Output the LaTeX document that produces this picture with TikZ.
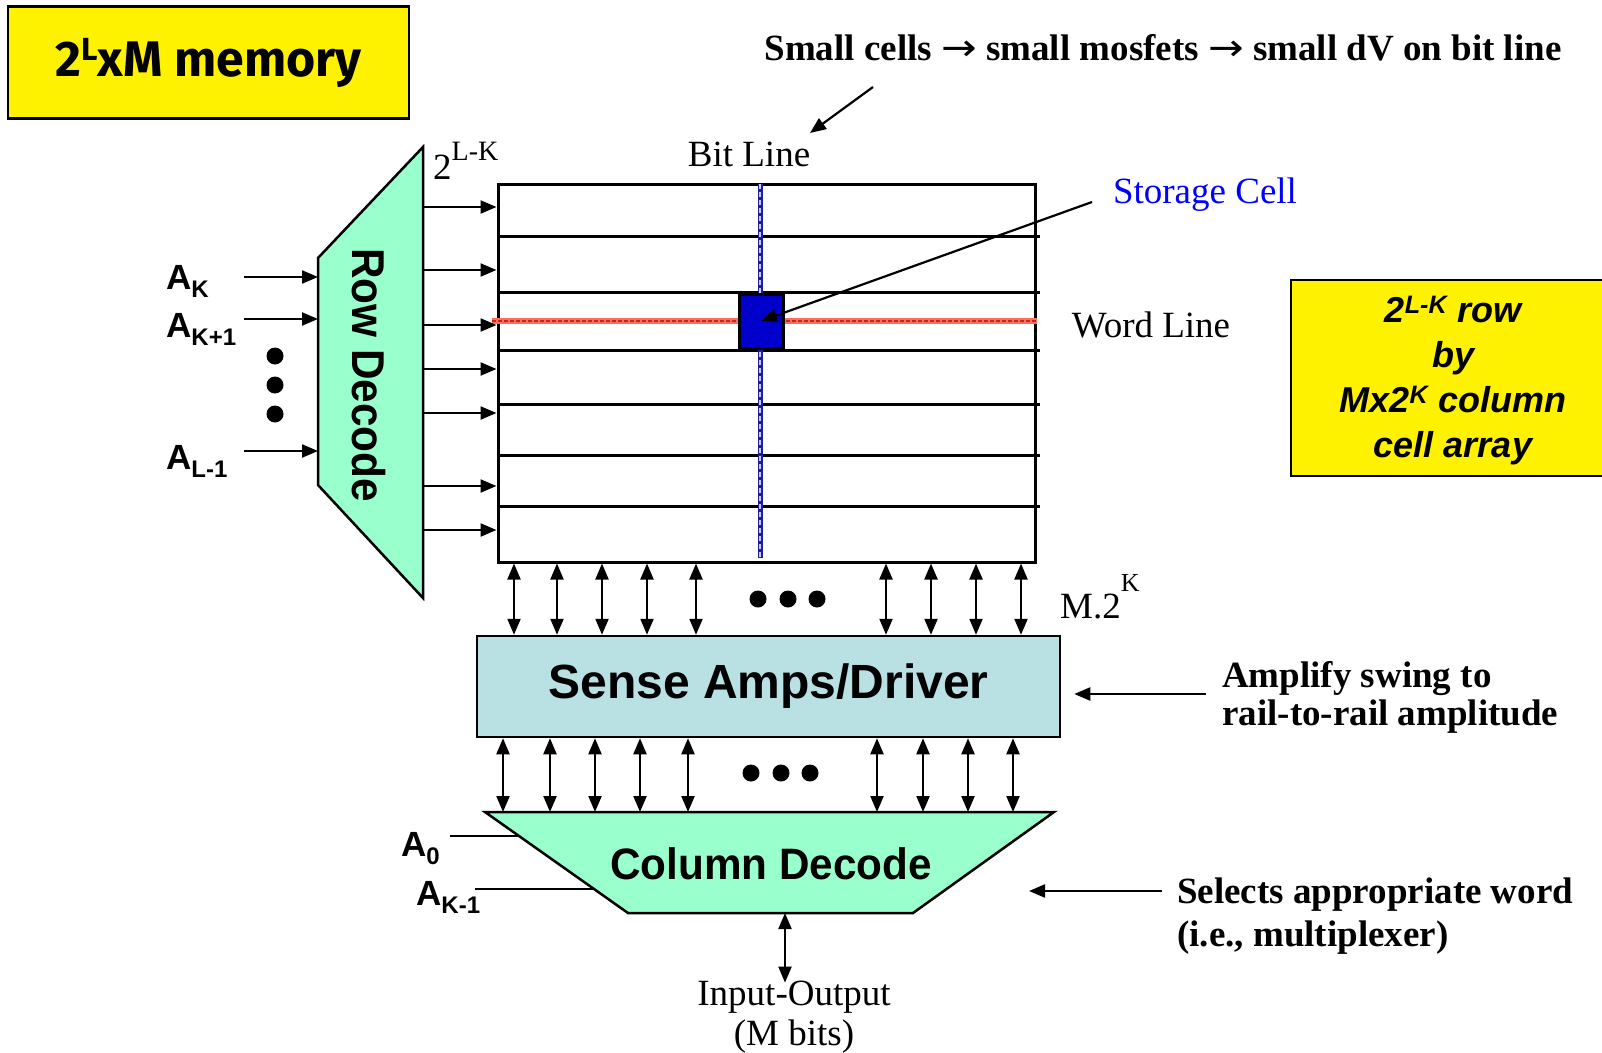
\documentclass[tikz,border=0pt]{standalone}
\usepackage{fontspec}
\setmainfont{Liberation Serif}
\setsansfont{Liberation Sans}
\newfontfamily\comicfont{Fira Sans}
\newfontfamily\arrowfont{DejaVu Sans}
\usetikzlibrary{arrows.meta}
\definecolor{mint}{RGB}{153,255,204}
\definecolor{senseblue}{RGB}{185,224,227}
\definecolor{cellblue}{RGB}{0,0,204}
\definecolor{bitblue}{RGB}{30,30,160}
\definecolor{wordred}{RGB}{255,110,90}
\definecolor{worddark}{RGB}{190,40,30}
\definecolor{noteblue}{RGB}{0,0,255}
\newcommand{\rarr}{{\arrowfont\mdseries\scalebox{1.15}[1]{→}}}
\begin{document}
\begin{tikzpicture}[x=1pt,y=-1pt,
  arr/.style={line width=2.2pt,-{Triangle[length=16pt,width=13pt]}},
  darr/.style={line width=2.2pt,{Triangle[length=16pt,width=13pt]}-{Triangle[length=16pt,width=13pt]}},
  wire/.style={line width=2.2pt},
  blk/.style={draw,line width=2.5pt,inner sep=0pt},
  serif37/.style={font=\fontsize{37}{44}\selectfont,inner sep=0pt},
  serifb37/.style={font=\bfseries\fontsize{37}{44}\selectfont,inner sep=0pt},
  alabel/.style={font=\sffamily\bfseries\fontsize{35}{40}\selectfont,inner sep=0pt,anchor=base west},
  dot/.style={fill=black,circle,inner sep=0pt,minimum size=17pt}]
\useasboundingbox (0,0) rectangle (1602,1052);

% title box
\node (title) [blk,fill=yellow,minimum width=401pt,minimum height=112pt] at (208.5,62.5)
  {\comicfont\bfseries\fontsize{50}{54}\selectfont 2\raisebox{16pt}{\fontsize{32}{32}\selectfont L}xM memory};

% right yellow box
\fill[yellow] (1291,280) rectangle (1602,476);
\draw[line width=2pt] (1602,280) -- (1291,280) -- (1291,476) -- (1602,476);
\node (cellnote) [inner sep=0pt,align=center,font=\sffamily\bfseries\itshape\fontsize{36}{45}\selectfont] at (1453,381)
  {2\textsuperscript{L-K} row\\by\\Mx2\textsuperscript{K} column\\cell array};

% top note
\node (note) [inner sep=0pt,font=\bfseries\fontsize{37}{44}\selectfont] at (1163,48) {Small cells \rarr{} small mosfets \rarr{} small dV on bit line};
\node (bitlabel) [serif37] at (749,154) {Bit Line};
\coordinate (noteend) at (873,87);
\coordinate (bittip) at (810,133);
\draw[arr] (noteend) -- (bittip);

% row decoder
\draw[fill=mint,line width=2.5pt] (423,147) coordinate (rdtop) -- (423,598) -- (318,485) -- (318,258) -- cycle;
\node (rdtext) [rotate=-90,inner sep=0pt,font=\sffamily\bfseries\fontsize{46}{50}\selectfont] at (369,375)
  {\scalebox{0.92}[1]{Row Decode}};
\node (lk) [serif37,anchor=base west] at (433,179) {2\raisebox{19pt}{\fontsize{28}{28}\selectfont L-K}};

% address inputs
\node (ak) [alabel] at (166,289) {A\raisebox{-8pt}{\fontsize{24}{24}\selectfont K}};
\node (ak1) [alabel] at (166,337) {A\raisebox{-8pt}{\fontsize{24}{24}\selectfont K+1}};
\node (al1) [alabel] at (166,469) {A\raisebox{-8pt}{\fontsize{24}{24}\selectfont L-1}};
\foreach \y/\n in {277/a,319/b,451/c}{
  \coordinate (in\n) at (244,\y);
  \coordinate (rd\n) at (318,\y);
  \draw[arr] (in\n) -- (rd\n);
}
\node (d1) [dot] at (275,356) {};
\node (d2) [dot] at (275,385) {};
\node (d3) [dot] at (275,414) {};

% cell array
\node (array) [draw,line width=3pt,minimum width=537pt,minimum height=378pt,inner sep=0pt] at (766.5,373) {};
\foreach \y in {236,292,350,404,455,506}{
  \draw[line width=3pt] (array.west |- 0,\y) -- ([xshift=3pt]array.east |- 0,\y);
}
% word line
\draw[wordred,line width=6pt] (492,321) -- (array.east |- 0,321);
\draw[worddark,line width=2pt,dash pattern=on 4pt off 2pt] (492,321) -- (array.east |- 0,321);
% bit line
\draw[bitblue,line width=5pt] (760,184) -- (760,558);
\draw[white!80!blue,line width=1.2pt,dash pattern=on 5pt off 3pt] (760,184) -- (760,558);
% storage cell
\node (cell) [draw,line width=3pt,fill=cellblue,minimum width=44pt,minimum height=54pt,inner sep=0pt] at (761,321) {};
\node (wordlabel) [serif37] at (1151,325) {Word Line};
\node (storagelabel) [serif37,text=noteblue] at (1205,195) {Storage Cell};
\coordinate (storstart) at (1092,202);
\draw[arr] (storstart) -- (cell.center);

% row outputs
\foreach \y in {207,270,325,369,413,486,530}{
  \draw[arr] (423,\y) -- (array.west |- 0,\y);
}

% sense amps
\node (sense) [blk,fill=senseblue,minimum width=583pt,minimum height=101pt] at (768.5,686.5)
  {\sffamily\bfseries\fontsize{48}{50}\selectfont Sense Amps/Driver};
\foreach \x in {514,557,602,647,696,886,931,976,1021}{
  \draw[darr] (array.south -| \x,0) -- (sense.north -| \x,0);
}
\node (e1) [dot] at (758,599) {};
\node (e2) [dot] at (788,599) {};
\node (e3) [dot] at (817,599) {};
\node (m2k) [serif37,anchor=base west] at (1060,618) {M.2\raisebox{27pt}{\fontsize{26}{26}\selectfont K}};

% column decoder
\draw[fill=mint,line width=2.5pt] (485,812) coordinate (cdtl) -- (1054,812) -- (913,913) -- (628,913) -- cycle;
\coordinate (cdtop) at (770,812);
\coordinate (cdbot) at (785,913);
\node (cdtext) [inner sep=0pt,font=\sffamily\bfseries\fontsize{44}{50}\selectfont] at (771,864)
  {\scalebox{0.96}[1]{Column Decode}};
\foreach \x in {503,550,595,640,688,877,923,968,1013}{
  \draw[darr] (sense.south -| \x,0) -- (cdtop -| \x,0);
}
\node (f1) [dot] at (751,773) {};
\node (f2) [dot] at (781,773) {};
\node (f3) [dot] at (810,773) {};

\node (a0) [alabel] at (401,856) {A\raisebox{-8pt}{\fontsize{24}{24}\selectfont 0}};
\node (ak1b) [alabel] at (416,905) {A\raisebox{-8pt}{\fontsize{24}{24}\selectfont K-1}};
\coordinate (a0s) at (450,836);
\coordinate (a0e) at (519,836);
\coordinate (aks) at (475,889);
\coordinate (ake) at (594,889);
\draw[wire] (a0s) -- (a0e);
\draw[wire] (aks) -- (ake);

% input-output
\node (io) [serif37,align=center,font=\fontsize{37}{40}\selectfont] at (794,1017) {Input-Output\\(M bits)};
\draw[darr] (cdbot) -- ([yshift=-2pt]io.north -| cdbot);

% side notes
\node (amp) [serifb37,align=left,anchor=west,font=\bfseries\fontsize{37}{38}\selectfont] at (1222,697)
  {Amplify swing to\\rail-to-rail amplitude};
\coordinate (ampstart) at (1206,694);
\draw[arr] (ampstart) -- ([xshift=13pt]sense.east |- ampstart);
\node (sel) [serifb37,align=left,anchor=west,font=\bfseries\fontsize{37}{43}\selectfont] at (1177,916)
  {Selects appropriate word\\(i.e., multiplexer)};
\coordinate (selstart) at (1162,891);
\coordinate (selend) at (1029,891);
\draw[arr] (selstart) -- (selend);
\end{tikzpicture}
\end{document}
